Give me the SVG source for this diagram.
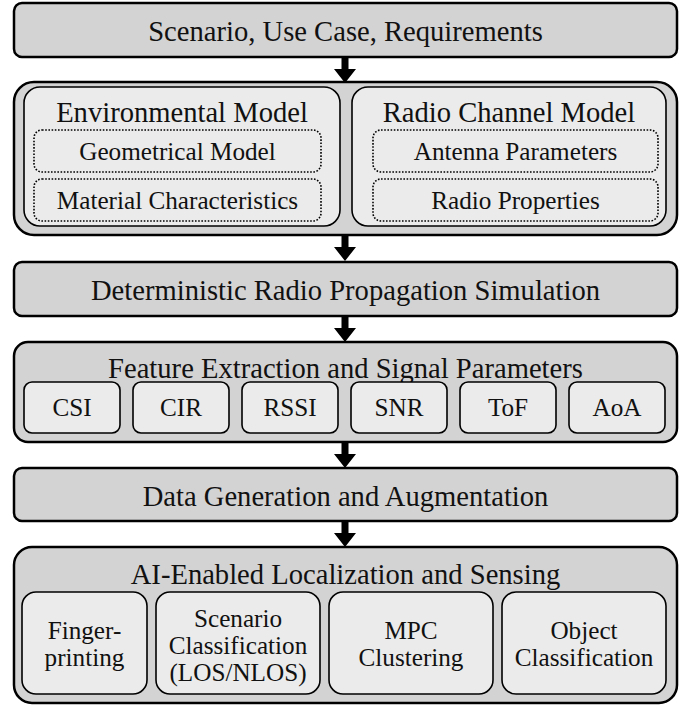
<svg xmlns="http://www.w3.org/2000/svg" width="689" height="705" viewBox="0 0 689 705">
<style>
.outer{fill:#d4d3d3;stroke:#000;stroke-width:2.5}
.inner{fill:#ebebeb;stroke:#000;stroke-width:1.6}
.dot{fill:#ebebeb;stroke:#000;stroke-width:1.6;stroke-dasharray:1.6 1.6}
.t{font-family:"Liberation Serif","Times New Roman",serif;font-size:28.6px;fill:#111;text-anchor:middle}
.s{font-family:"Liberation Serif","Times New Roman",serif;font-size:25.2px;fill:#111;text-anchor:middle}
.arr{fill:#000}
</style>
<defs>
<path id="arrow" d="M-3.5,0 L3.5,0 L3.5,12 L11,12 L0,26 L-11,12 L-3.5,12 Z"/>
</defs>
<g id="connectors" class="arr">
<use href="#arrow" x="345" y="57"/>
<use href="#arrow" x="345" y="235"/>
<use href="#arrow" x="345" y="316"/>
<use href="#arrow" x="345" y="442"/>
<use href="#arrow" x="345" y="521"/>
</g>
<g id="scenario">
<rect class="outer" x="14" y="3" width="663" height="54" rx="8"/>
<text class="t" x="345.5" y="41">Scenario, Use Case, Requirements</text>
</g>
<g id="models">
<rect class="outer" x="14" y="82" width="663" height="153" rx="20"/>
<g id="env">
<rect class="inner" x="24" y="87" width="316" height="139" rx="16"/>
<text class="t" x="182" y="122">Environmental Model</text>
<rect class="dot" x="34" y="130" width="287" height="42" rx="8"/>
<text class="s" x="177.5" y="160">Geometrical Model</text>
<rect class="dot" x="34" y="179" width="287" height="42" rx="8"/>
<text class="s" x="177.5" y="209">Material Characteristics</text>
</g>
<g id="radio">
<rect class="inner" x="352" y="87" width="314" height="139" rx="16"/>
<text class="t" x="509" y="122">Radio Channel Model</text>
<rect class="dot" x="373" y="130" width="285" height="42" rx="8"/>
<text class="s" x="515.5" y="160">Antenna Parameters</text>
<rect class="dot" x="373" y="179" width="285" height="42" rx="8"/>
<text class="s" x="515.5" y="209">Radio Properties</text>
</g>
</g>
<g id="simulation">
<rect class="outer" x="14" y="262" width="663" height="54" rx="8"/>
<text class="t" x="345.5" y="300">Deterministic Radio Propagation Simulation</text>
</g>
<g id="features">
<rect class="outer" x="14" y="342" width="663" height="100" rx="14"/>
<text class="t" x="345.5" y="378">Feature Extraction and Signal Parameters</text>
<g id="csi"><rect class="inner" x="24" y="382" width="96" height="51" rx="8"/><text class="s" x="72" y="416">CSI</text></g>
<g id="cir"><rect class="inner" x="133" y="382" width="96" height="51" rx="8"/><text class="s" x="181" y="416">CIR</text></g>
<g id="rssi"><rect class="inner" x="242" y="382" width="96" height="51" rx="8"/><text class="s" x="290" y="416">RSSI</text></g>
<g id="snr"><rect class="inner" x="351" y="382" width="96" height="51" rx="8"/><text class="s" x="399" y="416">SNR</text></g>
<g id="tof"><rect class="inner" x="460" y="382" width="96" height="51" rx="8"/><text class="s" x="508" y="416">ToF</text></g>
<g id="aoa"><rect class="inner" x="569" y="382" width="96" height="51" rx="8"/><text class="s" x="617" y="416">AoA</text></g>
</g>
<g id="datagen">
<rect class="outer" x="14" y="468" width="663" height="53" rx="8"/>
<text class="t" x="345.5" y="506">Data Generation and Augmentation</text>
</g>
<g id="ai">
<rect class="outer" x="14" y="547" width="663" height="156" rx="18"/>
<text class="t" x="345.5" y="584">AI-Enabled Localization and Sensing</text>
<g id="fingerprinting"><rect class="inner" x="22" y="592" width="125" height="102" rx="14"/>
<text class="s" x="84.5" y="639">Finger-</text><text class="s" x="84.5" y="666">printing</text></g>
<g id="scenarioclass"><rect class="inner" x="156" y="592" width="164" height="102" rx="14"/>
<text class="s" x="238" y="627">Scenario</text><text class="s" x="238" y="654">Classification</text><text class="s" x="238" y="681">(LOS/NLOS)</text></g>
<g id="mpc"><rect class="inner" x="329" y="592" width="164" height="102" rx="14"/>
<text class="s" x="411" y="639">MPC</text><text class="s" x="411" y="666">Clustering</text></g>
<g id="object"><rect class="inner" x="502" y="592" width="164" height="102" rx="14"/>
<text class="s" x="584" y="639">Object</text><text class="s" x="584" y="666">Classification</text></g>
</g>
</svg>
